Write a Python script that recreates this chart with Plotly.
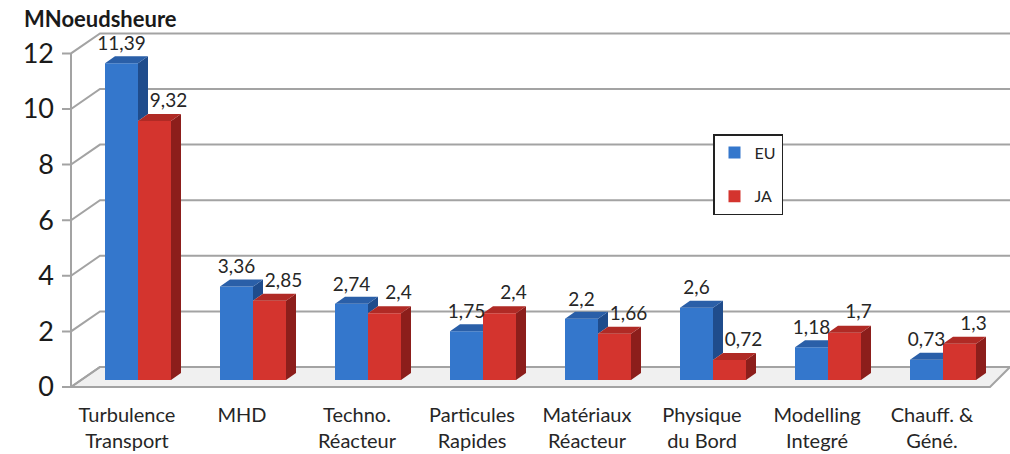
import plotly.graph_objects as go

# ---------------- data ----------------
categories = ["Turbulence<br>Transport", "MHD", "Techno.<br>Réacteur", "Particules<br>Rapides",
              "Matériaux<br>Réacteur", "Physique<br>du Bord", "Modelling<br>Integré", "Chauff. &<br>Géné."]
eu = [11.39, 3.36, 2.74, 1.75, 2.2, 2.6, 1.18, 0.73]
ja = [9.32, 2.85, 2.4, 2.4, 1.66, 0.72, 1.7, 1.3]
y_ticks = [0, 2, 4, 6, 8, 10, 12]
series_names = ["EU", "JA"]
y_title = "MNoeudsheure"

# ---------------- geometry (pixel-based helpers) ----------------
W, H = 1010, 454
PLOT_L, PLOT_R, PLOT_T, PLOT_B = 55, 1010, 5, 395
PX_X = 115.0      # px per category
CAT0 = 138.0      # px of first category centre
PX_Y = 27.8       # px per unit
ZERO = 380.0      # px of value 0 at bar front
FONT = "Lato, Open Sans, sans-serif"


def px2x(px):
    return (px - CAT0) / PX_X


def dx(p):
    return p / PX_X


def dy(p):
    return p / PX_Y


xr = [px2x(PLOT_L), px2x(PLOT_R)]
yr = [-(PLOT_B - ZERO) / PX_Y, (ZERO - PLOT_T) / PX_Y]

BAR_W = dx(33)
DEPTH_X, DEPTH_Y = dx(10), dy(7)
FRONT_OFF = -dy(7)     # front wall level offset
BACK_OFF = dy(13)      # back wall level offset

idx = list(range(len(categories)))

C = {
    "EU": dict(front="#3477cc", side="#1f4c8c", top="#2a5fa8"),
    "JA": dict(front="#d4342e", side="#8c1e1b", top="#b02a25"),
}

fig = go.Figure()

# front faces
fig.add_bar(x=idx, y=eu, width=BAR_W, offset=-BAR_W, name=series_names[0],
            marker=dict(color=C["EU"]["front"], line=dict(width=0)), legendgroup="eu")
fig.add_bar(x=idx, y=ja, width=BAR_W, offset=0, name=series_names[1],
            marker=dict(color=C["JA"]["front"], line=dict(width=0)), legendgroup="ja")

# 3D side/top faces
def poly_trace(xs, ys, color, group):
    fig.add_trace(go.Scatter(x=xs, y=ys, mode="lines", fill="toself", fillcolor=color,
                             line=dict(width=0, color=color), hoverinfo="skip",
                             showlegend=False, legendgroup=group))

eu_side_x, eu_side_y, eu_top_x, eu_top_y = [], [], [], []
ja_side_x, ja_side_y, ja_top_x, ja_top_y = [], [], [], []
for i, (a, b) in enumerate(zip(eu, ja)):
    xl, xm, xrr = i - BAR_W, i, i + BAR_W
    if a > b:
        eu_side_x += [xm, xm + DEPTH_X, xm + DEPTH_X, xm, xm, None]
        eu_side_y += [b, b + DEPTH_Y, a + DEPTH_Y, a, b, None]
        eu_top_x += [xl, xl + DEPTH_X, xm + DEPTH_X, xm, xl, None]
        eu_top_y += [a, a + DEPTH_Y, a + DEPTH_Y, a, a, None]
    else:
        eu_top_x += [xl, xl + DEPTH_X, xm, xm, xl, None]
        eu_top_y += [a, a + DEPTH_Y, a + DEPTH_Y, a, a, None]
    ja_side_x += [xrr, xrr + DEPTH_X, xrr + DEPTH_X, xrr, xrr, None]
    ja_side_y += [0, DEPTH_Y, b + DEPTH_Y, b, 0, None]
    ja_top_x += [xm, xm + DEPTH_X, xrr + DEPTH_X, xrr, xm, None]
    ja_top_y += [b, b + DEPTH_Y, b + DEPTH_Y, b, b, None]

poly_trace(eu_side_x, eu_side_y, C["EU"]["side"], "eu")
poly_trace(eu_top_x, eu_top_y, C["EU"]["top"], "eu")
poly_trace(ja_side_x, ja_side_y, C["JA"]["side"], "ja")
poly_trace(ja_top_x, ja_top_y, C["JA"]["top"], "ja")

# data labels
def fmt(v):
    return str(v).replace(".", ",")

LABEL_FONT = dict(family=FONT, size=19, color="#262626")
fig.add_trace(go.Scatter(x=[i - dx(16.5) for i in idx], y=[v + DEPTH_Y + dy(11) for v in eu],
                         mode="text", text=[fmt(v) for v in eu], textposition="middle center",
                         textfont=LABEL_FONT, showlegend=False, hoverinfo="skip", cliponaxis=False,
                         legendgroup="eu"))
fig.add_trace(go.Scatter(x=[i + dx(16.5 + 14) for i in idx], y=[v + DEPTH_Y + dy(12) for v in ja],
                         mode="text", text=[fmt(v) for v in ja], textposition="middle center",
                         textfont=LABEL_FONT, showlegend=False, hoverinfo="skip", cliponaxis=False,
                         legendgroup="ja"))

# walls: floor + gridlines as shapes below traces
GRID = "#a3a3a3"
floor_path = (f"M {px2x(71)},{FRONT_OFF} L {px2x(990)},{FRONT_OFF} "
              f"L {px2x(1010)},{BACK_OFF} L {px2x(100)},{BACK_OFF} Z")
fig.add_shape(type="path", path=floor_path, xref="x", yref="y", layer="below",
              fillcolor="#f0f0f0", line=dict(color=GRID, width=2))
for v in y_ticks:
    p = (f"M {px2x(62)},{v + FRONT_OFF} L {px2x(71)},{v + FRONT_OFF} "
         f"L {px2x(100)},{v + BACK_OFF} L {xr[1]},{v + BACK_OFF}")
    fig.add_shape(type="path", path=p, xref="x", yref="y", layer="below",
                  line=dict(color=GRID, width=2))
fig.add_shape(type="line", xref="x", yref="y", layer="below",
              x0=px2x(71), x1=px2x(71), y0=y_ticks[0] + FRONT_OFF, y1=y_ticks[-1] + FRONT_OFF,
              line=dict(color=GRID, width=2))

fig.add_annotation(text=f"<b>{y_title}</b>", xref="paper", yref="paper",
                   x=(22 - PLOT_L) / (PLOT_R - PLOT_L), y=(PLOT_B - 19) / (PLOT_B - PLOT_T),
                   xanchor="left", yanchor="middle", showarrow=False,
                   font=dict(family=FONT, size=22, color="#1a1a1a"))

fig.update_layout(
    width=W, height=H,
    margin=dict(l=PLOT_L, r=W - PLOT_R, t=PLOT_T, b=H - PLOT_B),
    paper_bgcolor="white", plot_bgcolor="white",
    barmode="overlay",
    showlegend=True,
    legend=dict(x=(713 - PLOT_L) / (PLOT_R - PLOT_L), y=(PLOT_B - 134) / (PLOT_B - PLOT_T),
                xanchor="left", yanchor="top", bgcolor="white", bordercolor="#222222",
                borderwidth=1.5, font=dict(family=FONT, size=16, color="#262626"),
                tracegroupgap=20, traceorder="grouped", itemwidth=30),
    font=dict(family=FONT, color="#262626"),
)
fig.update_xaxes(range=xr, tickmode="array", tickvals=[i - dx(11) for i in idx], ticktext=categories,
                 showgrid=False, zeroline=False, showline=False, ticks="",
                 ticklabelstandoff=6,
                 tickfont=dict(size=20, color="#262626"), fixedrange=True)
fig.update_yaxes(range=yr, tickmode="array", tickvals=[v + FRONT_OFF for v in y_ticks],
                 ticktext=[str(v) for v in y_ticks], showgrid=False, zeroline=False, showline=False,
                 ticks="", tickfont=dict(size=27, color="#1a1a1a"), fixedrange=True)

fig.write_html("out.html")
